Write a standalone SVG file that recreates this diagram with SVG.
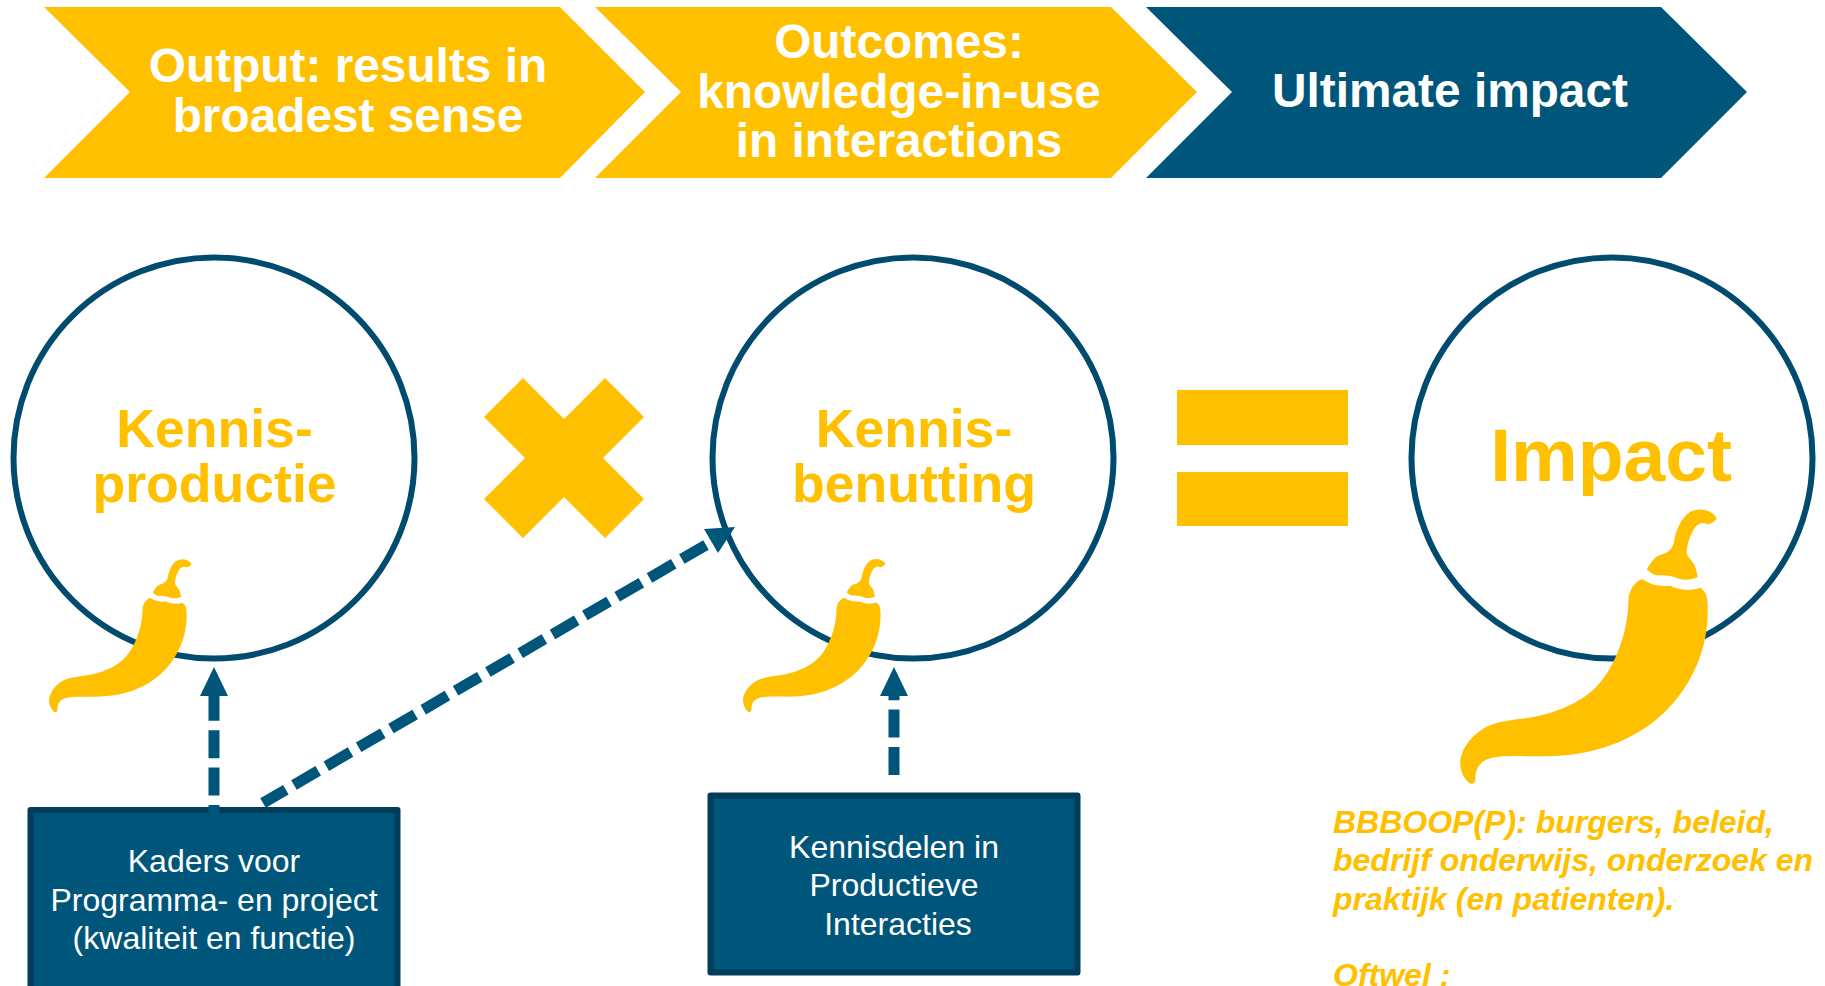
<svg xmlns="http://www.w3.org/2000/svg" width="1825" height="986" viewBox="0 0 1825 986">
<style>
text{font-family:"Liberation Sans",Arial,sans-serif;text-anchor:middle}
.h{font-size:47.8px;font-weight:700}
.w{fill:#fff}
.k{font-size:53.6px;font-weight:700;fill:#ffc000}
.c{fill:#fff;stroke:#004b6e;stroke-width:6}
.b{fill:#00567a;stroke:#003d5b;stroke-width:6;stroke-linejoin:round}
.t{font-size:32px;fill:#fff}
.y{fill:#ffc000}
.i{font-size:32px;font-weight:700;font-style:italic;fill:#ffc000;text-anchor:start}
.d{stroke:#00567a;stroke-width:11;fill:none;stroke-dasharray:28 9.4}
.a{fill:#00567a}
</style>
<defs>
<g id="chili" class="y">
<path d="M1022 267C1045 283 1070 290 1105 287C1125 297 1165 305 1195 293C1210 303 1216 315 1217 335C1222 420 1205 500 1160 575C1110 660 1030 735 900 775C830 797 760 800 690 799C640 798 590 797 560 808C530 820 523 845 524 870C522 880 515 884 507 880C488 865 476 840 479 810C485 770 520 725 570 705C610 690 650 690 700 680C780 665 850 630 890 585C940 530 980 430 981 330C982 300 1000 275 1022 267Z"/>
<path d="M1036 238C1050 215 1060 200 1075 195C1100 190 1115 175 1118 150C1125 115 1140 85 1160 70C1185 52 1225 55 1245 85C1240 95 1225 103 1218 103C1205 95 1190 100 1180 112C1165 135 1155 165 1155 190C1160 205 1170 210 1178 225C1184 240 1186 250 1188 261C1165 272 1140 272 1120 262C1100 255 1080 258 1065 256C1055 254 1045 248 1036 238Z"/>
</g>
</defs>
<g id="chevron-output"><polygon class="y" points="44,7 560,7 645,92 560,178 44,178 130,92"/><text class="h w"><tspan x="348" y="82">Output: results in</tspan><tspan x="348" y="132">broadest sense</tspan></text></g>
<g id="chevron-outcomes"><polygon class="y" points="595,7 1111,7 1197,92 1111,178 595,178 681,92"/><text class="h w"><tspan x="899" y="58">Outcomes:</tspan><tspan x="899" y="108">knowledge-in-use</tspan><tspan x="899" y="157">in interactions</tspan></text></g>
<g id="chevron-impact"><polygon fill="#00567a" points="1146,7 1661,7 1747,92 1661,178 1146,178 1232,92"/><text class="h w" x="1450" y="107">Ultimate impact</text></g>
<g id="node-productie"><circle class="c" cx="214" cy="458" r="200.5"/><text class="k"><tspan x="214.5" y="447">Kennis-</tspan><tspan x="214.5" y="502">productie</tspan></text><use href="#chili" transform="translate(-39.9 548.2) scale(.186)"/></g>
<g id="node-benutting"><circle class="c" cx="913" cy="458" r="200.5"/><text class="k"><tspan x="914" y="447">Kennis-</tspan><tspan x="914" y="502">benutting</tspan></text><use href="#chili" transform="translate(654 548) scale(.186)"/></g>
<g id="node-impact"><circle class="c" cx="1612" cy="458" r="200.5"/><text class="k" style="font-size:75px" x="1611" y="481">Impact</text><use href="#chili" transform="translate(1300 490) scale(.3348 .3333)"/></g>
<g id="op-times"><polygon class="y" points="564,419 523,378 484,417 525,458 484,499 523,538 564,497 605,538 644,499 603,458 644,417 605,378"/></g>
<g id="op-equals"><rect class="y" x="1177" y="390" width="171" height="55"/><rect class="y" x="1177" y="472" width="171" height="54"/></g>
<g id="node-kaders"><rect class="b" x="30.5" y="810" width="367" height="190"/><text class="t"><tspan x="214" y="872">Kaders voor</tspan><tspan x="214" y="911">Programma- en project</tspan><tspan x="214" y="949">(kwaliteit en functie)</tspan></text></g>
<g id="node-kennisdelen"><rect class="b" x="710.5" y="795.5" width="367" height="177"/><text class="t"><tspan x="894" y="858">Kennisdelen in</tspan><tspan x="894" y="896">Productieve</tspan><tspan x="898" y="935">Interacties</tspan></text></g>
<g id="connectors">
<path class="d" d="M214 814V696" stroke-dashoffset="19"/><polygon class="a" points="214,667 228,696 200,696"/>
<path class="d" d="M706 545L263 803"/><polygon class="a" points="735,527 704,529 718,553"/>
<path class="d" d="M894 775V696"/><polygon class="a" points="894,667 908,696 880,696"/>
</g>
<g id="note"><text class="i"><tspan x="1333" y="833">BBBOOP(P): burgers, beleid,</tspan><tspan x="1333" y="871">bedrijf onderwijs, onderzoek en</tspan><tspan x="1333" y="910">praktijk (en patienten).</tspan><tspan x="1333" y="986">Oftwel :</tspan></text></g>
</svg>
